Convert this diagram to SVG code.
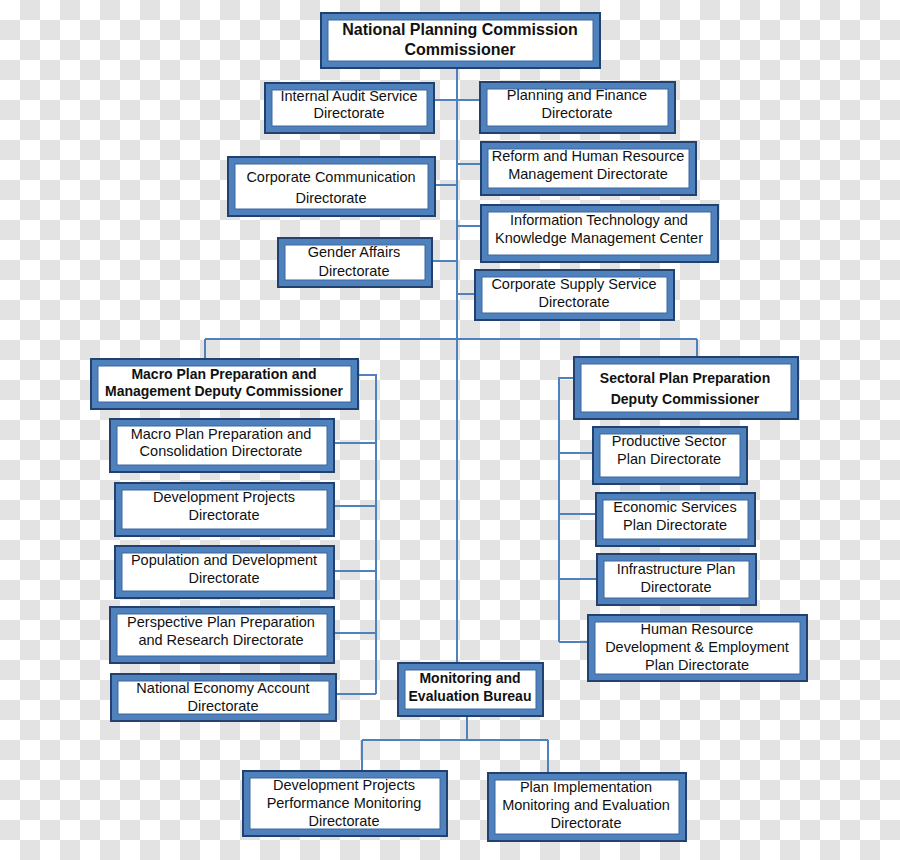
<svg xmlns="http://www.w3.org/2000/svg" width="900" height="860" viewBox="0 0 900 860">
<defs>
<style>
.o{fill:#4f81bd;stroke:#23416e;stroke-width:2}
.i{fill:#ffffff;stroke:#3a669f;stroke-width:1}
.c{fill:none;stroke:#4f81bd;stroke-width:2}
.chk{fill:none;stroke:#e3e3e3;stroke-width:20;stroke-dasharray:20 20}
text{font-family:"Liberation Sans",Arial,sans-serif;font-size:14.5px;fill:#111;text-anchor:middle}
.b{font-weight:bold;font-size:14px}
</style>
</defs>
<g id="background">
<rect x="0" y="0" width="900" height="860" fill="#ffffff"/>
<path class="chk" d="M20 10H900M20 50H900M20 90H900M20 130H900M20 170H900M20 210H900M20 250H900M20 290H900M20 330H900M20 370H900M20 410H900M20 450H900M20 490H900M20 530H900M20 570H900M20 610H900M20 650H900M20 690H900M20 730H900M20 770H900M20 810H900M20 850H900"/>
<path class="chk" d="M0 30H920M0 70H920M0 110H920M0 150H920M0 190H920M0 230H920M0 270H920M0 310H920M0 350H920M0 390H920M0 430H920M0 470H920M0 510H920M0 550H920M0 590H920M0 630H920M0 670H920M0 710H920M0 750H920M0 790H920M0 830H920"/>
</g>
<g id="connectors" class="c">
<path d="M457 68V663"/>
<path d="M434 100H479M435 185H457M457 164H480M457 226H480M432 261H457M457 294H474"/>
<path d="M205 339H697M205 339V358M697 339V356"/>
<path d="M358 375H376V694M334 443H376M334 506H376M334 571H376M334 633H376M336 694H376"/>
<path d="M573 378H559V642M559 453H592M559 514H595M559 579H596M559 642H587"/>
<path d="M467 716V740M362 740H548M362 740V770M548 740V772"/>
</g>
<g id="n1"><rect class="o" x="321" y="13" width="279" height="55"/><rect class="i" x="328" y="20" width="265" height="41"/><text class="b" x="460" y="35" style="font-size:16px">National Planning Commission</text><text class="b" x="460" y="55" style="font-size:16px">Commissioner</text></g>
<g id="n2"><rect class="o" x="265" y="83" width="169" height="50"/><rect class="i" x="272" y="90" width="155" height="36"/><text x="349" y="101">Internal Audit Service</text><text x="349" y="118">Directorate</text></g>
<g id="n3"><rect class="o" x="480" y="82" width="195" height="51"/><rect class="i" x="487" y="89" width="181" height="37"/><text x="577" y="100">Planning and Finance</text><text x="577" y="118">Directorate</text></g>
<g id="n4"><rect class="o" x="481" y="142" width="215" height="53"/><rect class="i" x="488" y="149" width="201" height="39"/><text x="588" y="161">Reform and Human Resource</text><text x="588" y="179">Management Directorate</text></g>
<g id="n5"><rect class="o" x="228" y="157" width="207" height="59"/><rect class="i" x="235" y="164" width="193" height="45"/><text x="331" y="182">Corporate Communication</text><text x="331" y="203">Directorate</text></g>
<g id="n6"><rect class="o" x="481" y="205" width="237" height="57"/><rect class="i" x="488" y="212" width="223" height="43"/><text x="599" y="225">Information Technology and</text><text x="599" y="243">Knowledge Management Center</text></g>
<g id="n7"><rect class="o" x="278" y="238" width="154" height="49"/><rect class="i" x="285" y="245" width="140" height="35"/><text x="354" y="257">Gender Affairs</text><text x="354" y="276">Directorate</text></g>
<g id="n8"><rect class="o" x="475" y="270" width="199" height="50"/><rect class="i" x="482" y="277" width="185" height="36"/><text x="574" y="289">Corporate Supply Service</text><text x="574" y="307">Directorate</text></g>
<g id="n9"><rect class="o" x="91" y="359" width="267" height="50"/><rect class="i" x="98" y="366" width="253" height="36"/><text class="b" x="224" y="379">Macro Plan Preparation and</text><text class="b" x="224" y="396">Management Deputy Commissioner</text></g>
<g id="n10"><rect class="o" x="574" y="357" width="224" height="62"/><rect class="i" x="581" y="364" width="210" height="48"/><text class="b" x="685" y="383">Sectoral Plan Preparation</text><text class="b" x="685" y="404">Deputy Commissioner</text></g>
<g id="n11"><rect class="o" x="110" y="419" width="224" height="53"/><rect class="i" x="117" y="426" width="210" height="39"/><text x="221" y="439">Macro Plan Preparation and</text><text x="221" y="456">Consolidation Directorate</text></g>
<g id="n12"><rect class="o" x="115" y="483" width="219" height="53"/><rect class="i" x="122" y="490" width="205" height="39"/><text x="224" y="502">Development Projects</text><text x="224" y="520">Directorate</text></g>
<g id="n13"><rect class="o" x="115" y="546" width="219" height="52"/><rect class="i" x="122" y="553" width="205" height="38"/><text x="224" y="565">Population and Development</text><text x="224" y="583">Directorate</text></g>
<g id="n14"><rect class="o" x="110" y="607" width="224" height="56"/><rect class="i" x="117" y="614" width="210" height="42"/><text x="221" y="627">Perspective Plan Preparation</text><text x="221" y="645">and Research Directorate</text></g>
<g id="n15"><rect class="o" x="111" y="674" width="225" height="47"/><rect class="i" x="118" y="681" width="211" height="33"/><text x="223" y="693">National Economy Account</text><text x="223" y="711">Directorate</text></g>
<g id="n16"><rect class="o" x="593" y="427" width="154" height="57"/><rect class="i" x="600" y="434" width="140" height="43"/><text x="669" y="446">Productive Sector</text><text x="669" y="464">Plan Directorate</text></g>
<g id="n17"><rect class="o" x="596" y="493" width="159" height="53"/><rect class="i" x="603" y="500" width="145" height="39"/><text x="675" y="512">Economic Services</text><text x="675" y="530">Plan Directorate</text></g>
<g id="n18"><rect class="o" x="597" y="554" width="159" height="51"/><rect class="i" x="604" y="561" width="145" height="37"/><text x="676" y="574">Infrastructure Plan</text><text x="676" y="592">Directorate</text></g>
<g id="n19"><rect class="o" x="588" y="615" width="219" height="66"/><rect class="i" x="595" y="622" width="205" height="52"/><text x="697" y="634">Human Resource</text><text x="697" y="652">Development &amp; Employment</text><text x="697" y="670">Plan Directorate</text></g>
<g id="n20"><rect class="o" x="398" y="663" width="145" height="53"/><rect class="i" x="405" y="670" width="131" height="39"/><text class="b" x="470" y="683">Monitoring and</text><text class="b" x="470" y="701">Evaluation Bureau</text></g>
<g id="n21"><rect class="o" x="243" y="771" width="204" height="65"/><rect class="i" x="250" y="778" width="190" height="51"/><text x="344" y="790">Development Projects</text><text x="344" y="808">Performance Monitoring</text><text x="344" y="826">Directorate</text></g>
<g id="n22"><rect class="o" x="488" y="773" width="198" height="68"/><rect class="i" x="495" y="780" width="184" height="54"/><text x="586" y="792">Plan Implementation</text><text x="586" y="810">Monitoring and Evaluation</text><text x="586" y="828">Directorate</text></g>
</svg>
